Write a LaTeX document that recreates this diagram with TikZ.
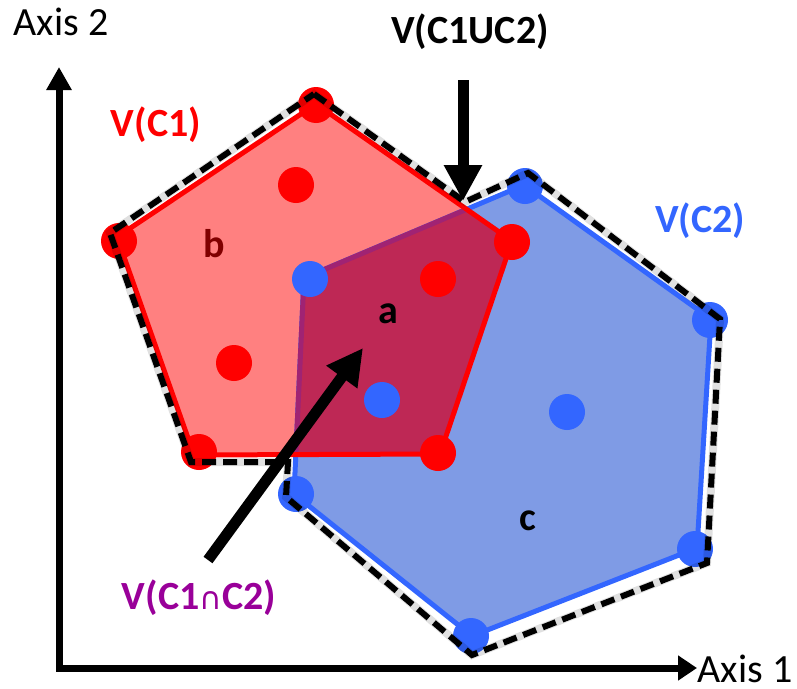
\documentclass[tikz,border=0pt]{standalone}
\usepackage{fontspec}
\setmainfont{Carlito}
\newfontfamily\djv{DejaVu Sans}
\usetikzlibrary{arrows.meta}
\definecolor{redfill}{RGB}{255,128,128}
\definecolor{bluefill}{RGB}{127,155,229}
\definecolor{bluec}{RGB}{51,102,255}
\definecolor{interc}{RGB}{190,40,85}
\definecolor{interedge}{RGB}{160,35,115}
\definecolor{purp}{RGB}{153,0,153}
\definecolor{darkr}{RGB}{128,0,0}
\tikzset{
  lbl/.style={inner sep=0pt, font=\bfseries\fontsize{40}{48}\selectfont},
  axlbl/.style={inner sep=0pt, font=\fontsize{40}{48}\selectfont},
  rdot/.style={circle, fill=red, minimum size=36pt, inner sep=0pt},
  bdot/.style={circle, fill=bluec, minimum size=36pt, inner sep=0pt},
  edge/.style={line width=5pt, line join=round},
  hull/.style={line width=6pt, dash pattern=on 14pt off 7pt, line join=miter},
  bigarrow/.style={line width=11pt, -{Triangle[length=36pt,width=36pt]}},
}
\begin{document}
\begin{tikzpicture}[x=1pt,y=-1pt]
\useasboundingbox (0,0) rectangle (797,688);
% polygon vertices
\coordinate (R1) at (316,104);
\coordinate (R2) at (117,237);
\coordinate (R3) at (194,455);
\coordinate (R4) at (440,454);
\coordinate (R5) at (512,241);
\coordinate (B1) at (524,185);
\coordinate (B2) at (711,319);
\coordinate (B3) at (697,548);
\coordinate (B4) at (472,636);
\coordinate (B5) at (294,494);
\coordinate (B6) at (304,278);
% fills
\fill[bluefill] (B1)--(B2)--(B3)--(B4)--(B5)--(B6)--cycle;
\fill[redfill] (R1)--(R2)--(R3)--(R4)--(R5)--cycle;
\draw[bluec, edge] (B1)--(B2)--(B3)--(B4)--(B5)--(B6)--cycle;
\begin{scope}
  \clip (R1)--(R2)--(R3)--(R4)--(R5)--cycle;
  \fill[interc] (B1)--(B2)--(B3)--(B4)--(B5)--(B6)--cycle;
  \draw[interedge, edge] (B1)--(B2)--(B3)--(B4)--(B5)--(B6)--cycle;
\end{scope}
\draw[red, edge] (R1)--(R2)--(R3)--(R4)--(R5)--cycle;
% red points
\node[rdot] (r1) at (316,105) {};
\node[rdot] (r2) at (119,241) {};
\node[rdot] (r3) at (199,452) {};
\node[rdot] (r4) at (438,453) {};
\node[rdot] (r5) at (512,242) {};
\node[rdot] (r6) at (296,185) {};
\node[rdot] (r7) at (234,363) {};
\node[rdot] (r8) at (438,279) {};
% blue points
\node[bdot] (b1) at (525,186) {};
\node[bdot] (b2) at (710,320) {};
\node[bdot] (b3) at (695,549) {};
\node[bdot] (b4) at (471,636) {};
\node[bdot] (b5) at (296,494) {};
\node[bdot] (b6) at (310,279) {};
\node[bdot] (b7) at (382,400) {};
\node[bdot] (b8) at (567,412) {};
% union outline
\coordinate (D1) at (314,94);
\coordinate (D2) at (465,202);
\coordinate (D3) at (528,173);
\coordinate (D4) at (720,319);
\coordinate (D5) at (707,563);
\coordinate (D6) at (472,655);
\coordinate (D7) at (286,497);
\coordinate (D8) at (288,462);
\coordinate (D9) at (191,462);
\coordinate (D10) at (110,233);
\draw[black, line width=8pt, line join=miter, opacity=0.12, shift={(1.5pt,-2pt)}] (D1)--(D2)--(D3)--(D4)--(D5)--(D6)--(D7)--(D8)--(D9)--(D10)--cycle;
\draw[black, hull] (D1)--(D2)--(D3)--(D4)--(D5)--(D6)--(D7)--(D8)--(D9)--(D10)--cycle;
% axes
\coordinate (O) at (59,668);
\coordinate (Ytip) at (59,67);
\coordinate (Xtip) at (697,668);
\draw[line width=7pt, line join=miter, {Triangle[length=23pt,width=24pt]}-{Triangle[length=19pt,width=24pt]}] (Ytip) -- (O) -- (Xtip);
% labels
\node[axlbl] (ax2) at (61,22) {Axis 2};
\node[axlbl] (ax1) at (745,669) {Axis 1};
\node[lbl, text=red] (vc1) at (156,125) {V(C1)};
\node[lbl, text=bluec] (vc2) at (700,221) {V(C2)};
\node[lbl] (vu) at (470,32) {V(C1UC2)};
\node[lbl, text=purp] (vi) at (199,598) {V(C1{\djv\mdseries\fontsize{31}{31}\selectfont ∩}C2)};
\node[lbl, text=darkr] (lb) at (214,244) {b};
\node[lbl] (la) at (388,314) {a};
\node[lbl] (lc) at (528,521) {c};
% arrows
\coordinate (u0) at (463,80);
\coordinate (u1) at (463,201);
\draw[bigarrow] (u0) -- (u1);
\coordinate (i0) at (208,560);
\coordinate (i1) at (363,348);
\draw[bigarrow] (i0) -- (i1);
\end{tikzpicture}
\end{document}
